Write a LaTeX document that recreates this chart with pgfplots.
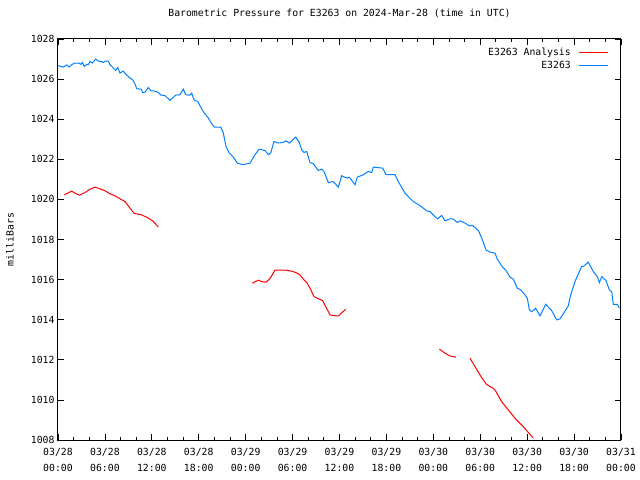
\documentclass[border=0pt]{standalone}
\usepackage{fontspec}
\setmainfont{DejaVu Sans Mono}
\usepackage{pgfplots}
\pgfplotsset{compat=1.18}
\definecolor{gpred}{RGB}{255,0,0}
\definecolor{gpblue}{RGB}{0,128,255}

\begin{document}
\begin{tikzpicture}
\begin{axis}[
  name=ax,
  scale only axis,
  width=563bp, height=401bp,
  xmin=0, xmax=72, ymin=1008, ymax=1028,
  xtick={0,6,...,72},
  xticklabels={{03/28\\00:00},{03/28\\06:00},{03/28\\12:00},{03/28\\18:00},{03/29\\00:00},{03/29\\06:00},{03/29\\12:00},{03/29\\18:00},{03/30\\00:00},{03/30\\06:00},{03/30\\12:00},{03/30\\18:00},{03/31\\00:00}},
  minor x tick num=2,
  ytick={1008,1010,...,1028},
  tick align=inside,
  xtick pos=both, ytick pos=both,
  major tick length=6bp, minor tick length=3bp,
  tick style={black, line width=0.8bp},
  axis line style={black, line width=1bp},
  /pgf/number format/1000 sep={},
  /pgf/number format/assume math mode=true,
  font=\fontsize{9.8bp}{12bp}\selectfont,
  xticklabel style={align=center, font=\fontsize{9.8bp}{16bp}\selectfont, yshift=-5bp},
  yticklabel style={font=\fontsize{9.8bp}{12bp}\selectfont, xshift=0bp},
  title={Barometric Pressure for E3263 on 2024-Mar-28 (time in UTC)},
  title style={at={(axis description cs:0.5,1)}, anchor=center, yshift=20bp, font=\fontsize{9.8bp}{12bp}\selectfont},
  ylabel={milliBars},
  ylabel style={at={(axis description cs:0,0.5)}, anchor=center, yshift=48bp, font=\fontsize{9.8bp}{12bp}\selectfont},
  legend plot pos=right,
  legend cell align=right,
  legend image code/.code={\draw[#1] (0bp,0bp) -- (29bp,0bp);},
  legend style={draw=none, fill=none, at={(1,1)}, anchor=north east, xshift=-11bp, yshift=-6bp,
    font=\fontsize{9.8bp}{12bp}\selectfont, row sep=0bp, inner sep=1bp,
    /tikz/every odd column/.append style={column sep=6bp}},
  unbounded coords=jump,
]
\addplot[gpred, line width=1bp] table {
h v
0.81 1020.23
1.24 1020.31
1.75 1020.41
2.17 1020.31
2.73 1020.21
3.45 1020.34
4.09 1020.51
4.73 1020.61
5.37 1020.53
6.01 1020.43
6.65 1020.28
7.29 1020.18
7.93 1020.03
8.57 1019.89
8.99 1019.68
9.43 1019.45
9.76 1019.30
10.70 1019.23
11.55 1019.07
12.19 1018.90
12.83 1018.62
13.0 nan
24.85 1015.82
25.19 1015.89
25.62 1015.97
26.05 1015.90
26.60 1015.87
27.03 1016.02
27.41 1016.24
27.75 1016.47
29.16 1016.47
29.89 1016.42
30.44 1016.35
30.95 1016.24
31.37 1016.02
31.81 1015.85
32.23 1015.57
32.74 1015.15
33.29 1015.05
33.85 1014.95
34.27 1014.62
34.79 1014.24
35.30 1014.20
35.85 1014.19
36.79 1014.52
37.0 nan
48.77 1012.54
49.20 1012.41
49.71 1012.28
50.13 1012.19
50.56 1012.16
50.90 1012.13
51.5 nan
52.69 1012.08
53.33 1011.66
53.97 1011.24
54.74 1010.80
55.25 1010.66
55.67 1010.58
56.02 1010.41
56.75 1009.91
57.59 1009.50
58.45 1009.08
59.51 1008.66
60.79 1008.09
};
\addlegendentry{E3263 Analysis}
\addplot[gpblue, line width=1bp] table {
h v
0.00 1026.67
0.68 1026.60
1.11 1026.70
1.41 1026.60
1.75 1026.72
2.17 1026.80
2.69 1026.80
2.94 1026.73
3.11 1026.83
3.36 1026.63
3.67 1026.73
3.88 1026.72
4.09 1026.88
4.39 1026.80
4.82 1027.00
5.15 1026.90
5.50 1026.88
5.79 1026.83
6.01 1026.90
6.43 1026.90
6.65 1026.72
7.07 1026.55
7.38 1026.43
7.64 1026.58
7.93 1026.30
8.35 1026.40
8.66 1026.25
9.21 1026.05
9.55 1025.97
9.85 1025.75
10.07 1025.52
10.62 1025.50
10.83 1025.33
11.13 1025.35
11.55 1025.58
11.86 1025.42
12.41 1025.40
12.83 1025.33
13.17 1025.20
13.68 1025.18
14.32 1024.94
14.62 1025.04
15.05 1025.20
15.60 1025.22
16.03 1025.50
16.33 1025.22
16.88 1025.20
17.10 1025.30
17.43 1024.94
17.87 1024.89
18.38 1024.51
18.71 1024.31
19.22 1024.06
19.66 1023.77
19.99 1023.61
20.81 1023.61
21.14 1023.31
21.49 1022.64
21.91 1022.31
22.42 1022.11
22.93 1021.81
23.19 1021.78
23.62 1021.73
24.56 1021.81
25.19 1022.23
25.74 1022.51
26.47 1022.44
26.90 1022.23
27.20 1022.31
27.62 1022.89
28.17 1022.81
28.74 1022.84
29.16 1022.92
29.58 1022.81
30.40 1023.11
30.86 1022.84
31.17 1022.47
31.46 1022.34
31.81 1022.39
32.23 1021.84
32.65 1021.78
33.29 1021.44
33.73 1021.51
34.02 1021.39
34.57 1020.84
35.21 1020.89
35.85 1020.61
36.28 1021.18
36.92 1021.06
37.25 1021.11
37.98 1020.73
38.28 1021.11
39.05 1021.23
39.68 1021.39
40.12 1021.34
40.32 1021.61
41.53 1021.56
41.95 1021.23
43.10 1021.23
43.52 1020.89
44.38 1020.31
45.44 1019.89
46.30 1019.69
47.15 1019.43
47.58 1019.39
48.51 1019.03
49.07 1019.20
49.49 1018.93
50.13 1019.03
50.56 1019.02
51.07 1018.85
51.41 1018.93
52.05 1018.82
52.60 1018.68
53.04 1018.70
53.75 1018.45
54.19 1018.07
54.74 1017.48
55.25 1017.37
55.89 1017.32
56.18 1017.02
56.75 1016.68
57.30 1016.45
57.81 1016.12
58.23 1016.02
58.74 1015.57
59.18 1015.49
59.73 1015.24
60.02 1015.07
60.28 1014.49
60.58 1014.40
61.09 1014.57
61.64 1014.19
62.37 1014.77
63.14 1014.45
63.78 1013.99
64.20 1014.04
64.71 1014.35
65.26 1014.69
65.57 1015.24
66.12 1015.90
66.67 1016.40
66.98 1016.65
67.27 1016.68
67.82 1016.87
68.46 1016.40
68.97 1016.15
69.23 1015.85
69.54 1016.15
70.08 1015.95
70.51 1015.49
70.81 1015.40
71.02 1014.77
71.53 1014.77
71.79 1014.57
};
\addlegendentry{E3263}
\end{axis}
\pgfresetboundingbox
\path[use as bounding box] (ax.south west) ++(-58bp,-40bp) rectangle ++(640bp,480bp);
\end{tikzpicture}
\end{document}
